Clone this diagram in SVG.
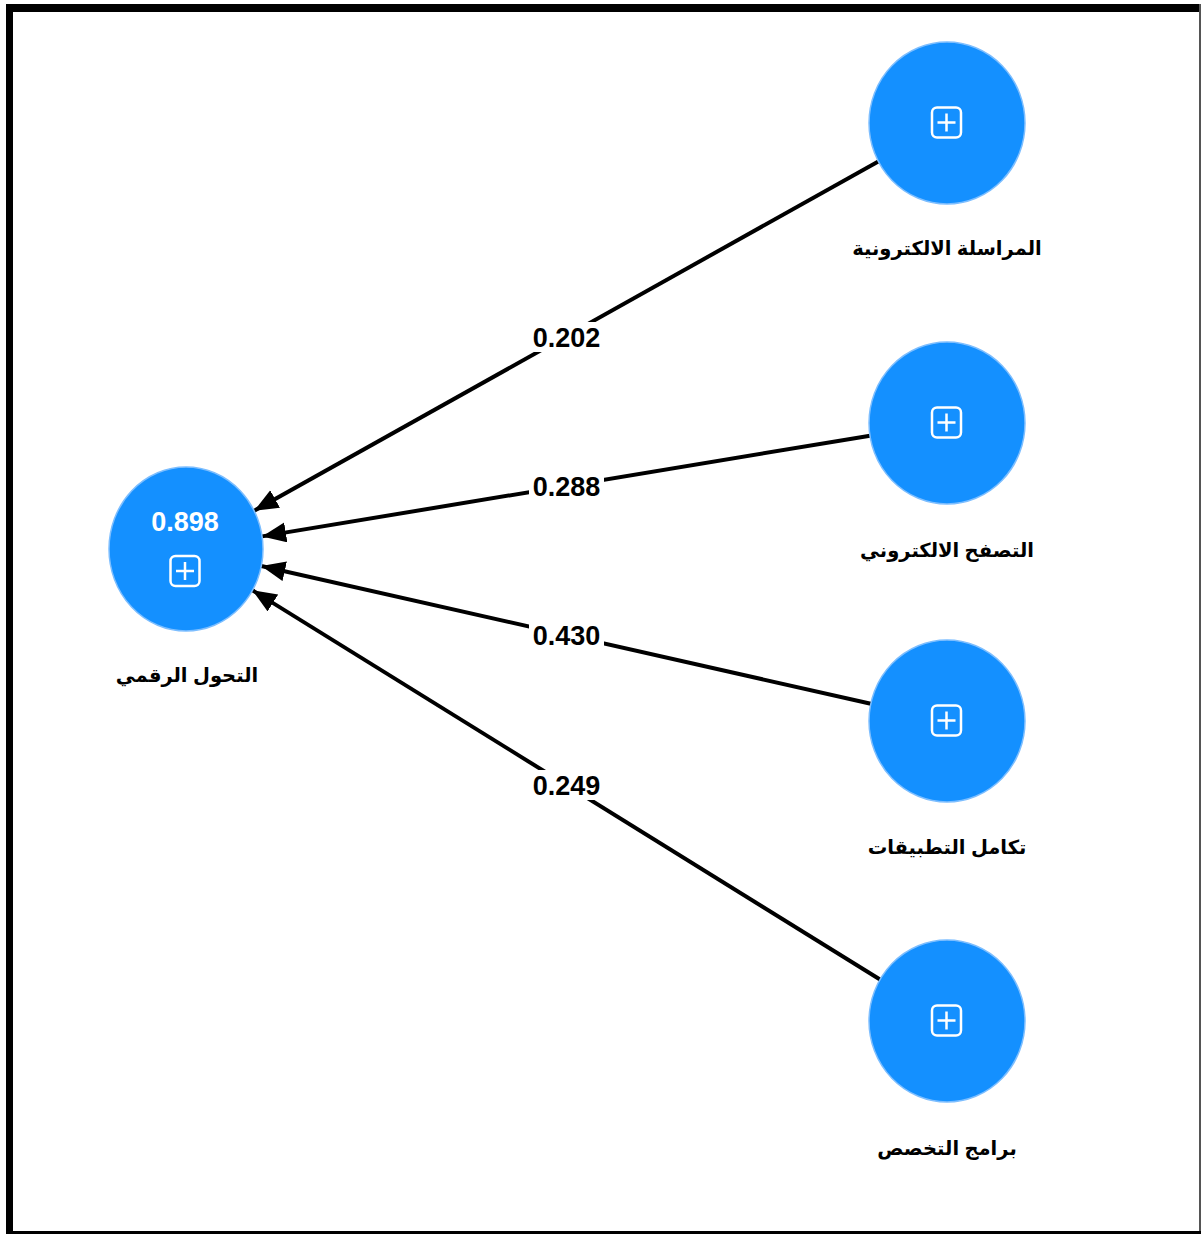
<svg xmlns="http://www.w3.org/2000/svg" width="1202" height="1235" viewBox="0 0 1202 1235">
<defs>
<style>
.node{fill:#1490FF;stroke:#7DBEFF;stroke-width:1.5}
.icon{fill:none;stroke:#fff;stroke-width:2.5}
.val{font-family:"Liberation Sans",Arial,sans-serif;font-weight:bold;font-size:27px;text-anchor:middle;fill:#000}
.nval{font-family:"Liberation Sans",Arial,sans-serif;font-weight:bold;font-size:27px;text-anchor:middle;fill:#fff}
.lbl{font-family:"Liberation Sans","DejaVu Sans",Arial,sans-serif;font-weight:bold;font-size:19.5px;text-anchor:middle;fill:#000}
.edge{stroke:#000;stroke-width:4;fill:none}
.lblbg{fill:#fff}
</style>
<marker id="arr" markerUnits="userSpaceOnUse" markerWidth="26" markerHeight="22" refX="24" refY="10" orient="auto">
<path d="M0,0 L24,10 L0,20 z" fill="#000"/>
</marker>
<g id="plus">
<rect x="-14.5" y="-15" width="29" height="30" rx="5" class="icon"/>
<path d="M0,-9 V9 M-9,0 H9" class="icon"/>
</g>
</defs>
<rect width="1202" height="1235" fill="#fff"/>
<g id="frame">
<rect x="6" y="4" width="7" height="1230" fill="#000"/>
<rect x="6" y="4" width="1195" height="8" fill="#000"/>
<rect x="1199" y="4" width="2" height="1230" fill="#555"/>
<rect x="6" y="1231" width="1195" height="3" fill="#000"/>
</g>
<g id="connectors">
<line class="edge" x1="878.3" y1="161.4" x2="254.2" y2="510.8" marker-end="url(#arr)"/>
<line class="edge" x1="870.0" y1="435.7" x2="262.1" y2="536.4" marker-end="url(#arr)"/>
<line class="edge" x1="870.8" y1="703.8" x2="261.3" y2="566.0" marker-end="url(#arr)"/>
<line class="edge" x1="880.0" y1="979.5" x2="252.5" y2="590.3" marker-end="url(#arr)"/>
<rect class="lblbg" x="529" y="322" width="75" height="30"/>
<text class="val" x="566.5" y="347">0.202</text>
<rect class="lblbg" x="529" y="471" width="75" height="30"/>
<text class="val" x="566.5" y="496">0.288</text>
<rect class="lblbg" x="529" y="620" width="75" height="30"/>
<text class="val" x="566.5" y="645">0.430</text>
<rect class="lblbg" x="529" y="770" width="75" height="30"/>
<text class="val" x="566.5" y="795">0.249</text>
</g>
<g id="n-digital">
<ellipse class="node" cx="186" cy="549" rx="77" ry="82"/>
<text class="nval" x="185" y="531">0.898</text>
<use href="#plus" x="185" y="571"/>
<text class="lbl" x="187" y="682">التحول الرقمي</text>
</g>
<g id="n-mail">
<ellipse class="node" cx="947" cy="123" rx="78" ry="81"/>
<use href="#plus" x="946.5" y="122.5"/>
<text class="lbl" x="947" y="255">المراسلة الالكترونية</text>
</g>
<g id="n-browse">
<ellipse class="node" cx="947" cy="423" rx="78" ry="81"/>
<use href="#plus" x="946.5" y="422.5"/>
<text class="lbl" x="947" y="557">التصفح الالكتروني</text>
</g>
<g id="n-apps">
<ellipse class="node" cx="947" cy="721" rx="78" ry="81"/>
<use href="#plus" x="946.5" y="720.5"/>
<text class="lbl" x="947" y="854">تكامل التطبيقات</text>
</g>
<g id="n-prog">
<ellipse class="node" cx="947" cy="1021" rx="78" ry="81"/>
<use href="#plus" x="946.5" y="1020.5"/>
<text class="lbl" x="947" y="1155">برامج التخصص</text>
</g>
</svg>
